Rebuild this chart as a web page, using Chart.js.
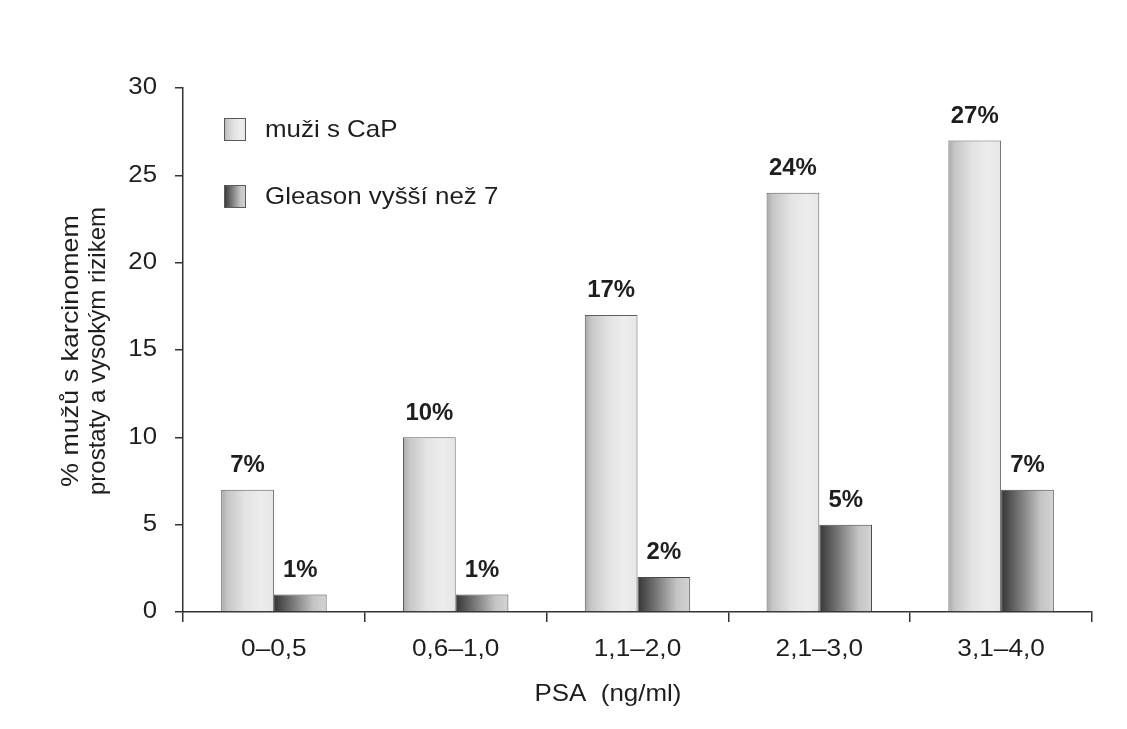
<!DOCTYPE html>
<html>
<head>
<meta charset="utf-8">
<script src="https://cdn.jsdelivr.net/npm/chart.js@4/dist/chart.umd.min.js"></script>
<style>
  html, body { margin: 0; padding: 0; background: #ffffff; }
  #wrap { width: 1127px; height: 729px; }
</style>
</head>
<body>
<div id="wrap"><canvas id="c" width="1127" height="729"></canvas></div>
<script>
// PSA ranges and share of men (%)
const categories = ['0–0,5', '0,6–1,0', '1,1–2,0', '2,1–3,0', '3,1–4,0'];
const cancerValues = [7, 10, 17, 24, 27];
const gleasonValues = [1, 1, 2, 5, 7];
const seriesNames = ['muži s CaP', 'Gleason vyšší než 7'];
const yTicks = [0, 5, 10, 15, 20, 25, 30];
const yTitle = ['% mužů s karcinomem', 'prostaty a vysokým rizikem'];
const xTitle = 'PSA  (ng/ml)';

const FONT = '"Liberation Sans", Arial, sans-serif';
const INK = '#1e1e1e';

function lightGradient(ctx, x0, x1) {
  const g = ctx.createLinearGradient(x0, 0, x1, 0);
  g.addColorStop(0, '#a9a9a9');
  g.addColorStop(0.12, '#c6c6c6');
  g.addColorStop(0.45, '#e3e3e3');
  g.addColorStop(0.75, '#ededed');
  g.addColorStop(1, '#e6e6e6');
  return g;
}
function darkGradient(ctx, x0, x1) {
  const g = ctx.createLinearGradient(x0, 0, x1, 0);
  g.addColorStop(0, '#353535');
  g.addColorStop(0.4, '#808080');
  g.addColorStop(0.75, '#c4c4c4');
  g.addColorStop(1, '#d4d4d4');
  return g;
}
const gradientMakers = [lightGradient, darkGradient];

// Text drawn with a slight stretch along its direction
function drawText(ctx, text, x, y, size, opts) {
  const o = Object.assign({ weight: 'normal', align: 'center', stretch: 1, rotate: 0 }, opts);
  ctx.save();
  ctx.translate(x, y);
  if (o.rotate) ctx.rotate(o.rotate);
  ctx.scale(o.stretch, 1);
  ctx.font = o.weight + ' ' + size + 'px ' + FONT;
  ctx.textAlign = o.align;
  ctx.textBaseline = 'middle';
  ctx.fillStyle = INK;
  ctx.fillText(text, 0, 0);
  ctx.restore();
}

// Shade each bar with a horizontal gradient spanning its own width
const barShading = {
  id: 'barShading',
  beforeDatasetsDraw(chart) {
    const ctx = chart.ctx;
    chart.data.datasets.forEach((ds, di) => {
      chart.getDatasetMeta(di).data.forEach(bar => {
        const p = bar.getProps(['x', 'width'], true);
        bar.options.backgroundColor = gradientMakers[di](ctx, p.x - p.width / 2, p.x + p.width / 2);
      });
    });
  }
};

// Tick labels, percent labels, legend and axis titles
const annotations = {
  id: 'annotations',
  afterDraw(chart) {
    const ctx = chart.ctx;
    const xs = chart.scales.x, ys = chart.scales.y;

    yTicks.forEach(v => {
      drawText(ctx, String(v), 157, ys.getPixelForValue(v), 23, { align: 'right', stretch: 1.12 });
    });
    categories.forEach((c, i) => {
      drawText(ctx, c, xs.getPixelForValue(i), 650, 23, { stretch: 1.14 });
    });

    chart.data.datasets.forEach((ds, di) => {
      chart.getDatasetMeta(di).data.forEach((bar, i) => {
        const p = bar.getProps(['x', 'y'], true);
        drawText(ctx, ds.data[i] + '%', p.x, p.y - 24, 23, { weight: 'bold', stretch: 1.04 });
      });
    });

    // legend
    const lx = 224, ly = [118, 185], bw = 22, bh = 23;
    seriesNames.forEach((name, di) => {
      ctx.fillStyle = gradientMakers[di](ctx, lx, lx + bw);
      ctx.fillRect(lx, ly[di], bw, bh);
      ctx.strokeStyle = '#5a5a5a';
      ctx.lineWidth = 1;
      ctx.strokeRect(lx + 0.5, ly[di] + 0.5, bw - 1, bh - 1);
      drawText(ctx, name, 265, ly[di] + bh / 2 + 1, 24, { align: 'left', stretch: 1.08 });
    });

    // axis titles
    drawText(ctx, yTitle[0], 71, 351, 24, { rotate: -Math.PI / 2, stretch: 1.12 });
    drawText(ctx, yTitle[1], 98, 351, 24, { rotate: -Math.PI / 2, stretch: 1.0 });
    drawText(ctx, xTitle, 608, 694, 24, { stretch: 1.08 });
  }
};

new Chart(document.getElementById('c'), {
  type: 'bar',
  data: {
    labels: categories,
    datasets: [
      { label: seriesNames[0], data: cancerValues, borderColor: '#5e5e5e', borderWidth: 1,
        backgroundColor: () => '#dddddd', categoryPercentage: 0.58, barPercentage: 1.0 },
      { label: seriesNames[1], data: gleasonValues, borderColor: '#4a4a4a', borderWidth: 1,
        backgroundColor: () => '#777777', categoryPercentage: 0.58, barPercentage: 1.0 }
    ]
  },
  options: {
    responsive: false,
    animation: false,
    devicePixelRatio: 1,
    layout: { padding: { top: 88, right: 35, left: 0, bottom: 0 } },
    plugins: { legend: { display: false }, tooltip: { enabled: false } },
    scales: {
      x: {
        offset: true,
        border: { display: true, color: '#333333', width: 1.5 },
        grid: { display: true, offset: true, drawOnChartArea: false, drawTicks: true,
                tickLength: 10, color: '#333333', lineWidth: 1.5 },
        ticks: { display: false },
        afterFit(scale) { scale.height = 117; }
      },
      y: {
        min: 0, max: 30,
        afterBuildTicks(scale) { scale.ticks = yTicks.map(v => ({ value: v })); },
        border: { display: true, color: '#333333', width: 1.5 },
        grid: { display: true, drawOnChartArea: false, drawTicks: true,
                tickLength: 8, color: '#333333', lineWidth: 1.5 },
        ticks: { display: false },
        afterFit(scale) { scale.width = 183; }
      }
    }
  },
  plugins: [barShading, annotations]
});
</script>
</body>
</html>
